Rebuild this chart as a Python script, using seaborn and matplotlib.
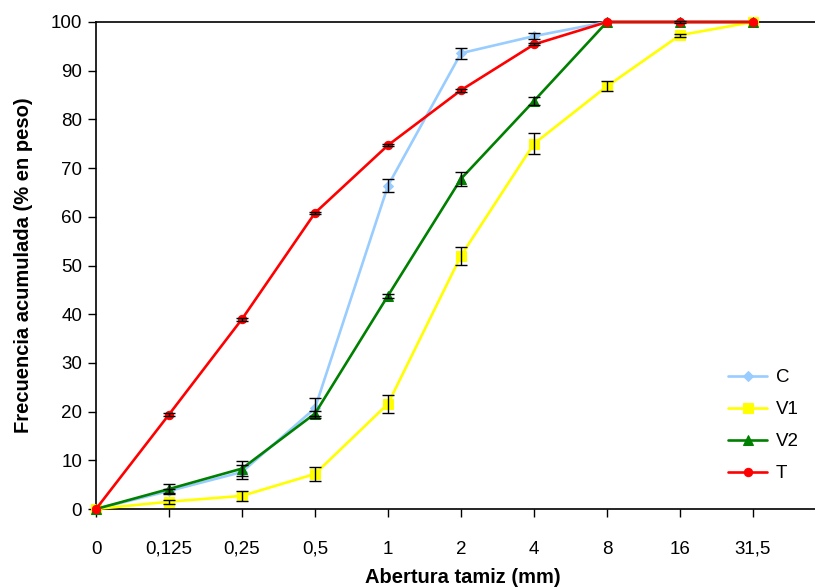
import matplotlib
matplotlib.use("Agg")
import matplotlib.pyplot as plt
import seaborn as sns
import pandas as pd
import numpy as np

categories = ["0", "0,125", "0,25", "0,5", "1", "2", "4", "8", "16", "31,5"]

C_vals = [0, 3.7, 7.6, 20.7, 66.4, 93.6, 97.1, 100, 100, 100]
C_err = [0, 0.5, 1.5, 2.0, 1.4, 1.1, 0.65, 0, 0, 0]
V1_vals = [0, 1.5, 2.7, 7.2, 21.6, 52.0, 75.0, 86.8, 97.3, 100]
V1_err = [0, 0.4, 1.0, 1.4, 1.8, 1.8, 2.2, 1.0, 0.3, 0]
V2_vals = [0, 4.1, 8.3, 19.6, 43.8, 67.8, 83.8, 100, 100, 100]
V2_err = [0, 1.1, 1.6, 0.6, 0.4, 1.4, 0.9, 0, 0, 0]
T_vals = [0, 19.4, 39.0, 60.8, 74.7, 86.0, 95.4, 100, 100, 100]
T_err = [0, 0.3, 0.3, 0.2, 0.2, 0.3, 0.2, 0, 0.2, 0]

series_names = ["C", "V1", "V2", "T"]
series_vals = [C_vals, V1_vals, V2_vals, T_vals]
series_err = [C_err, V1_err, V2_err, T_err]
colors = {"C": "#99CCFF", "V1": "#FFFF00", "V2": "#008000", "T": "#FF0000"}
markers = {"C": "D", "V1": "s", "V2": "^", "T": "o"}
msizes = {"C": 5, "V1": 6.5, "V2": 7.5, "T": 6}

sns.set_theme(style="white")
plt.rcParams["font.family"] = ["Liberation Sans", "DejaVu Sans"]

fig = plt.figure(figsize=(8.15, 5.88), dpi=100)
ax = fig.add_axes([96 / 815, 1 - 509 / 588, 1 - 96 / 815, (509 - 22) / 588])

pos = np.arange(len(categories))
for name, vals, errs in zip(series_names, series_vals, series_err):
    df = pd.DataFrame({"x": pos, "y": vals})
    sns.lineplot(data=df, x="x", y="y", ax=ax, color=colors[name], marker=markers[name],
                 markersize=msizes[name], markeredgecolor=colors[name], linewidth=1.9,
                 label=name, zorder=2, clip_on=False)

for name, vals, errs in zip(series_names, series_vals, series_err):
    e = np.array(errs)
    m = e > 0
    ax.errorbar(pos[m], np.array(vals)[m], yerr=e[m], fmt="none", ecolor="black",
                elinewidth=1.0, capsize=4, capthick=1.0, zorder=3, clip_on=False)

ax.set_xlim(0, (815 - 96) / 73)
ax.set_ylim(0, 100)
ax.set_xticks(pos)
ax.set_xticklabels(categories)
ax.set_yticks(np.arange(0, 101, 10))
ax.tick_params(axis="both", which="both", direction="out", length=6, width=1, color="black",
               labelsize=13.5, labelcolor="black", bottom=True, left=True)
ax.tick_params(axis="x", pad=17)
ax.tick_params(axis="y", pad=4)

for s in ["left", "bottom", "top"]:
    ax.spines[s].set_visible(True)
    ax.spines[s].set_color("black")
    ax.spines[s].set_linewidth(1.2)
    ax.spines[s].set_zorder(1)
ax.spines["right"].set_visible(False)

ax.set_xlabel("Abertura tamiz (mm)", fontsize=14.5, fontweight="bold", color="black")
ax.set_ylabel("Frecuencia acumulada (% en peso)", fontsize=14.5, fontweight="bold", color="black")
ax.xaxis.set_label_coords(0.51, -0.121)
ax.yaxis.set_label_coords(-0.087, 0.5)

leg = ax.legend(loc="upper left", bbox_to_anchor=(728 / 815, 1 - 369 / 588),
                bbox_transform=fig.transFigure, frameon=False, fontsize=13.5,
                handlelength=2.1, handletextpad=0.45, labelspacing=0.8, borderpad=0,
                borderaxespad=0)
for t in leg.get_texts():
    t.set_color("black")

fig.savefig("out.png", dpi=100)
